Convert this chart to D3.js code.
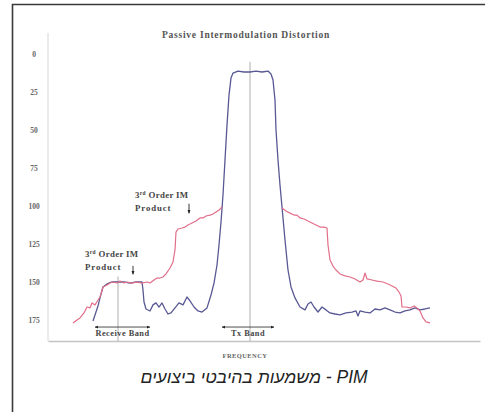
<!DOCTYPE html>
<html><head><meta charset="utf-8">
<script src="https://cdn.jsdelivr.net/npm/d3@7/dist/d3.min.js"></script>
<style>html,body{margin:0;padding:0;background:#fff;}svg{display:block;}</style>
</head><body>
<svg id="c" width="485" height="412"></svg>
<script>
// ---- data (frequency in relative units, level in dB below carrier) ----
const yTicks = [0, 25, 50, 75, 100, 125, 150, 175];
const titleText = "Passive Intermodulation Distortion";
const xLabel = "FREQUENCY";
const caption = "PIM - משמעות בהיבטי ביצועים";

const blueFreq = [45,48,50,52,55,59,64,70,76,82,88,94,95,96,98,102,105,108,111,114,117,120,123,127,131,135,139,142,146,150,154,159,163,166,169,171,173,175,177,179,181,183,185,190,196,202,208,214,220,223,225,227,228,230,232,234,237,240,243,247,252,257,260,263,266,270,274,278,282,287,292,298,304,308,310,312,317,322,327,332,337,342,347,352,357,362,367,372,377,382];
const blueLevel = [175.8,169.9,165.9,160.6,153.4,151.4,150.1,150.1,150.1,150.8,150.1,150.1,155.4,163.3,167.9,169.2,165.2,163.9,166.6,163.9,167.9,171.2,170.5,167.2,163.9,165.2,160.0,162.6,166.6,169.2,169.9,167.2,158.7,150.8,138.9,125.7,110.6,92.8,69.7,46.7,26.9,15.7,12.4,11.1,11.7,11.7,11.1,11.7,11.1,13.0,17.0,30.2,49.9,69.7,86.2,100.7,122.4,142.2,153.4,160.6,166.6,168.5,164.6,163.3,166.6,169.9,166.6,168.5,170.5,171.2,171.8,170.5,169.9,169.2,172.5,169.2,169.9,170.5,167.9,168.5,167.2,168.5,169.9,170.5,169.2,168.5,167.2,168.5,167.9,167.2];

const redFreq = [25,29,32,36,39,42,44,47,50,52,55,59,62,65,69,72,76,79,84,89,94,99,102,106,109,112,115,118,122,125,127,128,130,134,137,140,144,148,152,155,158,162,165,168,171,174,
                 null,
                 234,238,242,246,249,252,256,260,264,268,272,276,279,280,282,285,288,292,297,302,307,312,315,317,319,324,329,335,340,344,348,351,353,354,358,362,366,369,372,375,378,382];
const redLevel = [177.1,175.1,173.8,170.5,166.6,167.2,163.9,165.2,162.0,160.0,153.4,152.1,150.8,150.1,150.8,149.5,150.8,150.1,150.8,150.1,150.8,150.1,150.8,148.8,147.5,147.5,146.8,144.8,140.9,136.9,129.0,117.2,115.2,114.5,113.9,112.5,111.2,109.9,107.9,107.9,106.6,106.0,105.3,104.0,102.7,100.7,
                 null,
                 101.3,103.3,104.7,106.0,106.0,107.9,108.6,109.9,111.2,112.5,113.9,113.9,114.5,125.7,135.6,139.6,142.2,144.8,146.1,146.8,148.1,150.1,148.8,144.2,148.1,148.8,149.5,150.1,151.4,152.7,154.1,156.7,159.3,166.6,166.6,167.2,165.9,167.2,169.2,173.8,176.4,177.1];

// annotations (data space)
const noteText = ["3rd Order IM", "Product"];
const noteAnchors = [{f: 87, v: 94.5}, {f: 37, v: 133.5}];
const noteArrows = [{f: 141, v0: 98.5, v1: 104.8}, {f: 85, v0: 139.5, v1: 145}];
const bands = [{name: "Receive Band", f0: 47, f1: 102, v: 179.8}, {name: "Tx Band", f0: 174, f1: 226, v: 179.8}];
const markerLines = [{f: 70, v: 146.5}, {f: 202, v: 5}];

// ---- layout ----
const svg = d3.select("#c");
const x = d3.scaleLinear().domain([0, 432]).range([48, 480]);
const y = d3.scaleLinear().domain([-14, 189]).range([33, 341]);
const serif = "'Liberation Serif','Times New Roman',serif";

// frame
svg.append("path").attr("d", "M12.5,412 L12.5,4.5 L485,4.5")
  .attr("fill", "none").attr("stroke", "#3a3a3a").attr("stroke-width", 1.6);

// axes
svg.append("line").attr("x1", x(0)).attr("x2", x(0)).attr("y1", y(-14)).attr("y2", y(189))
  .attr("stroke", "#d6d6d6").attr("stroke-width", 1);
const xa = svg.append("g").attr("transform", `translate(0,${y(189)})`)
  .call(d3.axisBottom(x).ticks(0).tickSize(0).tickFormat(""));
xa.select(".domain").attr("stroke", "#c4c4c4").attr("stroke-width", 1.5);

const ya = svg.append("g").attr("transform", `translate(${x(0)},0)`)
  .call(d3.axisLeft(y).tickValues(yTicks).tickSize(0).tickPadding(14));
ya.select(".domain").remove();
ya.selectAll("text").attr("text-anchor", "middle").attr("dx", "0")
  .attr("font-family", serif).attr("font-weight", "bold").attr("font-size", 7.5).attr("fill", "#666");

// title & x label
svg.append("text").attr("x", 246).attr("y", 38).attr("text-anchor", "middle")
  .attr("font-family", serif).attr("font-weight", "bold").attr("font-size", 9.5).attr("fill", "#555")
  .attr("letter-spacing", 0.75).text(titleText);
svg.append("text").attr("x", 245).attr("y", y(189) + 17).attr("text-anchor", "middle")
  .attr("font-family", serif).attr("font-weight", "bold").attr("font-size", 6.5).attr("fill", "#666")
  .attr("letter-spacing", 0.4).text(xLabel);

// marker lines
markerLines.forEach(m => {
  svg.append("line").attr("x1", x(m.f)).attr("x2", x(m.f)).attr("y1", y(m.v)).attr("y2", y(189))
    .attr("stroke", "#9a9a9a").attr("stroke-width", 0.8);
});

// series
const blue = blueFreq.map((f, i) => ({f, v: blueLevel[i]}));
const red = redFreq.map((f, i) => ({f, v: redLevel[i]}));
const line = d3.line().defined(d => d.f !== null).x(d => x(d.f)).y(d => y(d.v));
svg.append("path").datum(blue).attr("d", line).attr("fill", "none")
  .attr("stroke", "#585894").attr("stroke-width", 1.3).attr("stroke-linejoin", "round");
svg.append("path").datum(red).attr("d", line).attr("fill", "none")
  .attr("stroke", "#e26f8a").attr("stroke-width", 1.2).attr("stroke-linejoin", "round");

// arrow marker defs
const defs = svg.append("defs");
defs.append("marker").attr("id", "ah").attr("viewBox", "0 0 10 10").attr("refX", 9).attr("refY", 5)
  .attr("markerWidth", 4.5).attr("markerHeight", 4.5).attr("orient", "auto-start-reverse")
  .append("path").attr("d", "M0,1 L10,5 L0,9 z").attr("fill", "#222");

// notes
noteAnchors.forEach(a => {
  const t = svg.append("text").attr("x", x(a.f)).attr("y", y(a.v))
    .attr("font-family", serif).attr("font-weight", "bold").attr("font-size", 8.8).attr("fill", "#444")
    .attr("letter-spacing", 0.35);
  t.append("tspan").attr("x", x(a.f)).text("3");
  t.append("tspan").attr("font-size", 5.5).attr("dy", -3).text("rd");
  t.append("tspan").attr("dy", 3).text(" Order IM");
  t.append("tspan").attr("x", x(a.f)).attr("dy", 13).attr("letter-spacing", 0.9).text(noteText[1]);
});
noteArrows.forEach(a => {
  svg.append("line").attr("x1", x(a.f)).attr("x2", x(a.f)).attr("y1", y(a.v0)).attr("y2", y(a.v1))
    .attr("stroke", "#222").attr("stroke-width", 0.9).attr("marker-end", "url(#ah)");
});

// bands
bands.forEach(b => {
  svg.append("line").attr("x1", x(b.f0)).attr("x2", x(b.f1)).attr("y1", y(b.v)).attr("y2", y(b.v))
    .attr("stroke", "#222").attr("stroke-width", 0.8)
    .attr("marker-start", "url(#ah)").attr("marker-end", "url(#ah)");
  svg.append("text").attr("x", x((b.f0 + b.f1) / 2)).attr("y", y(b.v) + 9).attr("text-anchor", "middle")
    .attr("font-family", serif).attr("font-weight", "bold").attr("font-size", 8.3).attr("fill", "#444")
    .attr("letter-spacing", 0.5).text(b.name);
});

// caption
svg.append("text").attr("x", 254).attr("y", 383).attr("text-anchor", "middle")
  .attr("direction", "rtl").attr("unicode-bidi", "embed")
  .attr("font-family", "'Liberation Sans', Arial, sans-serif").attr("font-style", "italic")
  .attr("font-size", 17.5).attr("fill", "#222").text(caption);
</script>
</body></html>
